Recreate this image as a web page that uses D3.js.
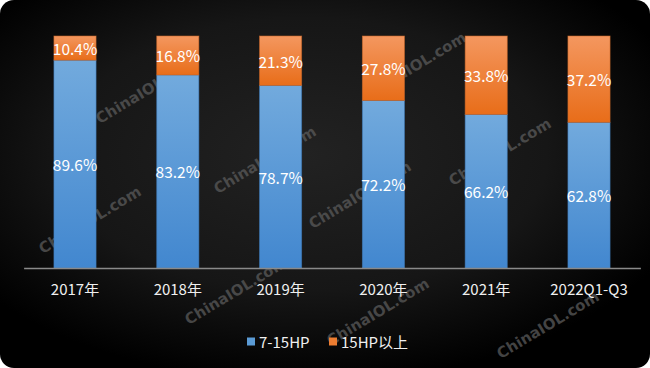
<!DOCTYPE html>
<html>
<head>
<meta charset="utf-8">
<script src="https://cdn.jsdelivr.net/npm/d3@7/dist/d3.min.js"></script>
<style>
html,body{margin:0;padding:0;background:#fff;}
svg{display:block;font-family:"Noto Sans CJK SC","Noto Sans",sans-serif;}
</style>
</head>
<body>
<svg id="chart" width="650" height="368"></svg>
<script>
const categories = ["2017年","2018年","2019年","2020年","2021年","2022Q1-Q3"];
const seriesNames = ["7-15HP","15HP以上"];
const small = [89.6, 83.2, 78.7, 72.2, 66.2, 62.8];   // 7-15HP
const large = [10.4, 16.8, 21.3, 27.8, 33.8, 37.2];   // 15HP以上
const watermarkText = "ChinaIOL.com";
const watermarkCenters = [[90,220],[147,90],[265,160],[360,195],[500,152],[415,66],[236,291],[378,312],[548,325]];

const W = 650, H = 368;
const svg = d3.select("#chart");
const defs = svg.append("defs");

const bg = defs.append("radialGradient").attr("id","bg").attr("cx","0.47").attr("cy","0.42").attr("r","0.62");
bg.append("stop").attr("offset","0").attr("stop-color","#222222");
bg.append("stop").attr("offset","0.6").attr("stop-color","#161616");
bg.append("stop").attr("offset","1").attr("stop-color","#000000");

function lin(id, top, bottom){
  const g = defs.append("linearGradient").attr("id",id).attr("x1",0).attr("y1",0).attr("x2",0).attr("y2",1);
  g.append("stop").attr("offset","0").attr("stop-color",top);
  g.append("stop").attr("offset","1").attr("stop-color",bottom);
}
lin("gBlue","#72aadd","#4287cf");
lin("gOrange","#f4975f","#e86d19");

svg.append("rect").attr("x",0).attr("y",0).attr("width",W).attr("height",H)
  .attr("rx",14).attr("ry",14).attr("fill","url(#bg)");

// watermarks
svg.append("g").selectAll("text").data(watermarkCenters).join("text")
  .attr("transform", d => `translate(${d[0]},${d[1]}) rotate(-31)`)
  .attr("text-anchor","middle").attr("dominant-baseline","central")
  .attr("font-size",15).attr("font-weight","bold")
  .attr("font-family","'DejaVu Sans','Noto Sans',sans-serif")
  .attr("fill","#5a5a5a").attr("fill-opacity",0.75)
  .text(watermarkText);

const x = d3.scaleBand().domain(categories).range([23.6, 640.4]).paddingInner(0.59).paddingOuter(0.295);
const y = d3.scaleLinear().domain([0,100]).range([268, 36]);

const data = categories.map((c,i)=>({cat:c, a:small[i], b:large[i]}));
const stack = d3.stack().keys(["a","b"])(data);
const fills = ["url(#gBlue)","url(#gOrange)"];
const strokes = ["#3f79b5","#c8672a"];

stack.forEach((layer,li)=>{
  const g = svg.append("g");
  g.selectAll("rect").data(layer).join("rect")
    .attr("x", d => x(d.data.cat))
    .attr("y", d => y(d[1]))
    .attr("width", x.bandwidth())
    .attr("height", d => y(d[0]) - y(d[1]))
    .attr("fill", fills[li])
    .attr("stroke", strokes[li]).attr("stroke-width",0.8).attr("stroke-opacity",0.7);
  g.selectAll("text").data(layer).join("text")
    .attr("x", d => x(d.data.cat) + x.bandwidth()/2)
    .attr("y", d => (y(d[0]) + y(d[1]))/2)
    .attr("text-anchor","middle").attr("dominant-baseline","central")
    .attr("font-size",15.5).attr("fill","#ffffff")
    .text(d => (d[1]-d[0]).toFixed(1) + "%");
});

// axis
const xAxis = svg.append("g").attr("transform","translate(0,268)")
  .call(d3.axisBottom(x).tickSize(0).tickPadding(16));
xAxis.select(".domain").attr("stroke","#8a8a8a").attr("stroke-width",1.5);
xAxis.selectAll("text").attr("fill","#f0f0f0").attr("font-size",15)
  .attr("font-family","'Noto Sans CJK SC','Noto Sans',sans-serif");

// legend
const legendColors = ["#5b9bd5","#ed7d31"];
const legendX = [247, 329];
const lg = svg.append("g");
seriesNames.forEach((n,i)=>{
  lg.append("rect").attr("x",legendX[i]).attr("y",337.5).attr("width",8).attr("height",8).attr("fill",legendColors[i]);
  lg.append("text").attr("x",legendX[i]+12).attr("y",341.5).attr("dominant-baseline","central")
    .attr("font-size",15).attr("fill","#f0f0f0").text(n);
});
</script>
</body>
</html>
